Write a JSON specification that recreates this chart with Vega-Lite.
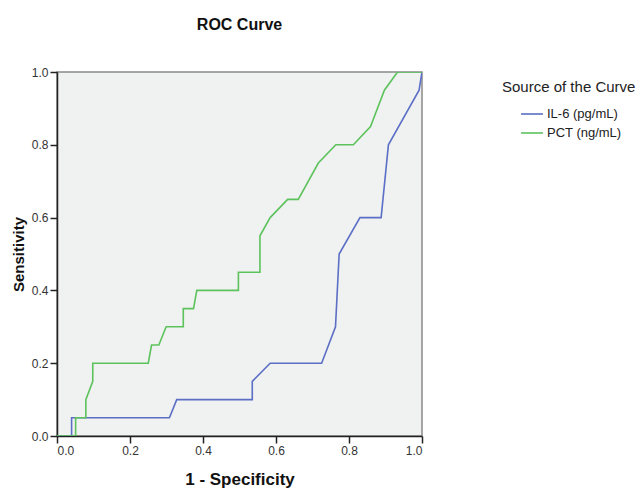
{
  "$schema": "https://vega.github.io/schema/vega-lite/v6.json",
  "width": 365,
  "height": 364,
  "autosize": {"type": "none"},
  "padding": {"left": 57, "top": 72, "right": 219, "bottom": 53},
  "background": "white",
  "title": {"text": "ROC Curve", "font": "Liberation Sans", "fontSize": 16, "fontWeight": "bold", "color": "#111", "anchor": "middle", "offset": 33},
  "config": {
    "view": {"fill": "#f0f1f1", "stroke": "#8a8a8a", "strokeWidth": 1.5},
    "font": "Liberation Sans"
  },
  "data": {"values": [
    {"curve": "IL-6 (pg/mL)", "i": 0, "fpr": 0, "tpr": 0},
    {"curve": "IL-6 (pg/mL)", "i": 1, "fpr": 0.04, "tpr": 0},
    {"curve": "IL-6 (pg/mL)", "i": 2, "fpr": 0.04, "tpr": 0.05},
    {"curve": "IL-6 (pg/mL)", "i": 3, "fpr": 0.308, "tpr": 0.05},
    {"curve": "IL-6 (pg/mL)", "i": 4, "fpr": 0.328, "tpr": 0.10},
    {"curve": "IL-6 (pg/mL)", "i": 5, "fpr": 0.535, "tpr": 0.10},
    {"curve": "IL-6 (pg/mL)", "i": 6, "fpr": 0.535, "tpr": 0.15},
    {"curve": "IL-6 (pg/mL)", "i": 7, "fpr": 0.584, "tpr": 0.20},
    {"curve": "IL-6 (pg/mL)", "i": 8, "fpr": 0.725, "tpr": 0.20},
    {"curve": "IL-6 (pg/mL)", "i": 9, "fpr": 0.763, "tpr": 0.30},
    {"curve": "IL-6 (pg/mL)", "i": 10, "fpr": 0.773, "tpr": 0.50},
    {"curve": "IL-6 (pg/mL)", "i": 11, "fpr": 0.830, "tpr": 0.60},
    {"curve": "IL-6 (pg/mL)", "i": 12, "fpr": 0.888, "tpr": 0.60},
    {"curve": "IL-6 (pg/mL)", "i": 13, "fpr": 0.908, "tpr": 0.80},
    {"curve": "IL-6 (pg/mL)", "i": 14, "fpr": 0.992, "tpr": 0.95},
    {"curve": "IL-6 (pg/mL)", "i": 15, "fpr": 1.0, "tpr": 1.0},
    {"curve": "PCT (ng/mL)", "i": 0, "fpr": 0, "tpr": 0},
    {"curve": "PCT (ng/mL)", "i": 1, "fpr": 0.051, "tpr": 0},
    {"curve": "PCT (ng/mL)", "i": 2, "fpr": 0.051, "tpr": 0.05},
    {"curve": "PCT (ng/mL)", "i": 3, "fpr": 0.079, "tpr": 0.05},
    {"curve": "PCT (ng/mL)", "i": 4, "fpr": 0.079, "tpr": 0.10},
    {"curve": "PCT (ng/mL)", "i": 5, "fpr": 0.098, "tpr": 0.15},
    {"curve": "PCT (ng/mL)", "i": 6, "fpr": 0.098, "tpr": 0.20},
    {"curve": "PCT (ng/mL)", "i": 7, "fpr": 0.25, "tpr": 0.20},
    {"curve": "PCT (ng/mL)", "i": 8, "fpr": 0.259, "tpr": 0.25},
    {"curve": "PCT (ng/mL)", "i": 9, "fpr": 0.279, "tpr": 0.25},
    {"curve": "PCT (ng/mL)", "i": 10, "fpr": 0.299, "tpr": 0.30},
    {"curve": "PCT (ng/mL)", "i": 11, "fpr": 0.346, "tpr": 0.30},
    {"curve": "PCT (ng/mL)", "i": 12, "fpr": 0.346, "tpr": 0.35},
    {"curve": "PCT (ng/mL)", "i": 13, "fpr": 0.374, "tpr": 0.35},
    {"curve": "PCT (ng/mL)", "i": 14, "fpr": 0.383, "tpr": 0.40},
    {"curve": "PCT (ng/mL)", "i": 15, "fpr": 0.497, "tpr": 0.40},
    {"curve": "PCT (ng/mL)", "i": 16, "fpr": 0.497, "tpr": 0.45},
    {"curve": "PCT (ng/mL)", "i": 17, "fpr": 0.556, "tpr": 0.45},
    {"curve": "PCT (ng/mL)", "i": 18, "fpr": 0.556, "tpr": 0.55},
    {"curve": "PCT (ng/mL)", "i": 19, "fpr": 0.584, "tpr": 0.60},
    {"curve": "PCT (ng/mL)", "i": 20, "fpr": 0.632, "tpr": 0.65},
    {"curve": "PCT (ng/mL)", "i": 21, "fpr": 0.661, "tpr": 0.65},
    {"curve": "PCT (ng/mL)", "i": 22, "fpr": 0.716, "tpr": 0.75},
    {"curve": "PCT (ng/mL)", "i": 23, "fpr": 0.764, "tpr": 0.80},
    {"curve": "PCT (ng/mL)", "i": 24, "fpr": 0.812, "tpr": 0.80},
    {"curve": "PCT (ng/mL)", "i": 25, "fpr": 0.859, "tpr": 0.85},
    {"curve": "PCT (ng/mL)", "i": 26, "fpr": 0.897, "tpr": 0.95},
    {"curve": "PCT (ng/mL)", "i": 27, "fpr": 0.933, "tpr": 1.0},
    {"curve": "PCT (ng/mL)", "i": 28, "fpr": 1.0, "tpr": 1.0}
  ]},
  "mark": {"type": "line", "strokeWidth": 1.6, "clip": true},
  "encoding": {
    "x": {"field": "fpr", "type": "quantitative", "scale": {"domain": [0, 1], "nice": false},
      "axis": {"title": "1 - Specificity", "values": [0, 0.2, 0.4, 0.6, 0.8, 1.0], "format": ".1f", "grid": false,
        "domainColor": "#222", "domainWidth": 1.5, "tickColor": "#222", "tickWidth": 1.5, "tickSize": 7,
        "labelFontSize": 12, "labelColor": "#333", "labelPadding": 2,
        "titleFontSize": 17, "titleFontWeight": "bold", "titleColor": "#111", "titlePadding": 15}},
    "y": {"field": "tpr", "type": "quantitative", "scale": {"domain": [0, 1], "nice": false},
      "axis": {"title": "Sensitivity", "values": [0, 0.2, 0.4, 0.6, 0.8, 1.0], "format": ".1f", "grid": false,
        "domainColor": "#222", "domainWidth": 1.5, "tickColor": "#222", "tickWidth": 1.5, "tickSize": 7,
        "labelFontSize": 12, "labelColor": "#333", "labelPadding": 2,
        "titleFontSize": 15, "titleFontWeight": "bold", "titleColor": "#111", "titlePadding": 5}},
    "color": {"field": "curve", "type": "nominal",
      "scale": {"domain": ["IL-6 (pg/mL)", "PCT (ng/mL)"], "range": ["#5b6fc6", "#5cc35c"]},
      "legend": {"title": "Source of the Curve", "orient": "none", "legendX": 445, "legendY": 8,
        "titleFontSize": 15, "titleFontWeight": "normal", "titleColor": "#222", "titlePadding": 7,
        "labelFontSize": 13, "labelColor": "#222", "symbolType": "stroke", "symbolSize": 480, "symbolStrokeWidth": 1.6,
        "symbolOffset": 18, "labelOffset": 3,
        "rowPadding": -4, "offset": 0}},
    "order": {"field": "i", "type": "quantitative"}
  }
}
